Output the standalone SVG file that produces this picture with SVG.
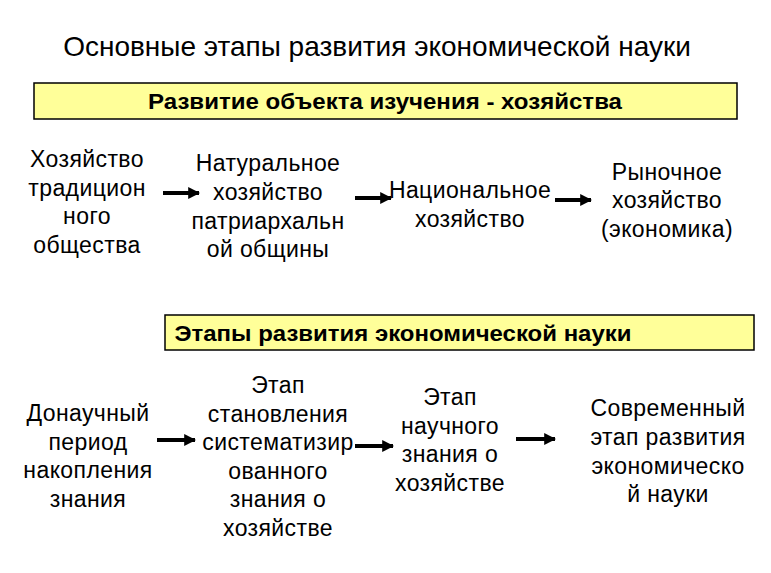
<svg xmlns="http://www.w3.org/2000/svg" width="771" height="573" viewBox="0 0 771 573">
<style>
text{font-family:"Liberation Sans",Arial,sans-serif;fill:#000;text-anchor:middle}
.t{font-size:23px;letter-spacing:0.4px}
.h{font-size:28px}
.b{font-size:22px;font-weight:bold}
.band{fill:#ffff99;stroke:#000;stroke-width:1.5}
.ar{stroke:#000;stroke-width:4;fill:none;marker-end:url(#ah)}
</style>
<defs>
<marker id="ah" viewBox="0 0 10 10" refX="9" refY="5" markerWidth="3" markerHeight="3" orient="auto" markerUnits="strokeWidth">
<path d="M0,0 L10,5 L0,10 z" fill="#000"/>
</marker>
</defs>
<rect width="771" height="573" fill="#fff"/>
<g id="title"><text class="h" x="377" y="56">Основные этапы развития экономической науки</text></g>
<g id="band1"><rect class="band" x="34" y="83" width="703" height="36"/><text class="b" x="385" y="109" textLength="474" lengthAdjust="spacingAndGlyphs">Развитие объекта изучения - хозяйства</text></g>
<g id="n1"><text class="t" x="87"><tspan x="87" y="167">Хозяйство</tspan><tspan x="87" y="196">традицион</tspan><tspan x="87" y="224">ного</tspan><tspan x="87" y="253">общества</tspan></text></g>
<g id="n2"><text class="t" x="268"><tspan x="268" y="171">Натуральное</tspan><tspan x="268" y="200">хозяйство</tspan><tspan x="268" y="229">патриархальн</tspan><tspan x="268" y="257">ой общины</tspan></text></g>
<g id="n3"><text class="t" x="470"><tspan x="470" y="198">Национальное</tspan><tspan x="470" y="227">хозяйство</tspan></text></g>
<g id="n4"><text class="t" x="667"><tspan x="667" y="180">Рыночное</tspan><tspan x="667" y="208">хозяйство</tspan><tspan x="667" y="237">(экономика)</tspan></text></g>
<g id="band2"><rect class="band" x="165" y="315" width="589" height="35"/><text class="b" x="403" y="341" textLength="457" lengthAdjust="spacingAndGlyphs">Этапы развития экономической науки</text></g>
<g id="m1"><text class="t" x="88"><tspan x="88" y="421">Донаучный</tspan><tspan x="88" y="450">период</tspan><tspan x="88" y="478">накопления</tspan><tspan x="88" y="507">знания</tspan></text></g>
<g id="m2"><text class="t" x="278"><tspan x="278" y="393">Этап</tspan><tspan x="278" y="422">становления</tspan><tspan x="278" y="450">систематизир</tspan><tspan x="278" y="479">ованного</tspan><tspan x="278" y="507">знания о</tspan><tspan x="278" y="536">хозяйстве</tspan></text></g>
<g id="m3"><text class="t" x="450"><tspan x="450" y="405">Этап</tspan><tspan x="450" y="434">научного</tspan><tspan x="450" y="462">знания о</tspan><tspan x="450" y="491">хозяйстве</tspan></text></g>
<g id="m4"><text class="t" x="668"><tspan x="668" y="416">Современный</tspan><tspan x="668" y="445">этап развития</tspan><tspan x="668" y="474">экономическо</tspan><tspan x="668" y="502">й науки</tspan></text></g>
<g id="connectors">
<line class="ar" x1="163" y1="193" x2="199" y2="193"/>
<line class="ar" x1="355" y1="198" x2="391" y2="198"/>
<line class="ar" x1="555" y1="200" x2="591" y2="200"/>
<line class="ar" x1="157" y1="440" x2="195" y2="440"/>
<line class="ar" x1="355" y1="446" x2="393" y2="446"/>
<line class="ar" x1="516" y1="439" x2="555" y2="439"/>
</g>
</svg>
